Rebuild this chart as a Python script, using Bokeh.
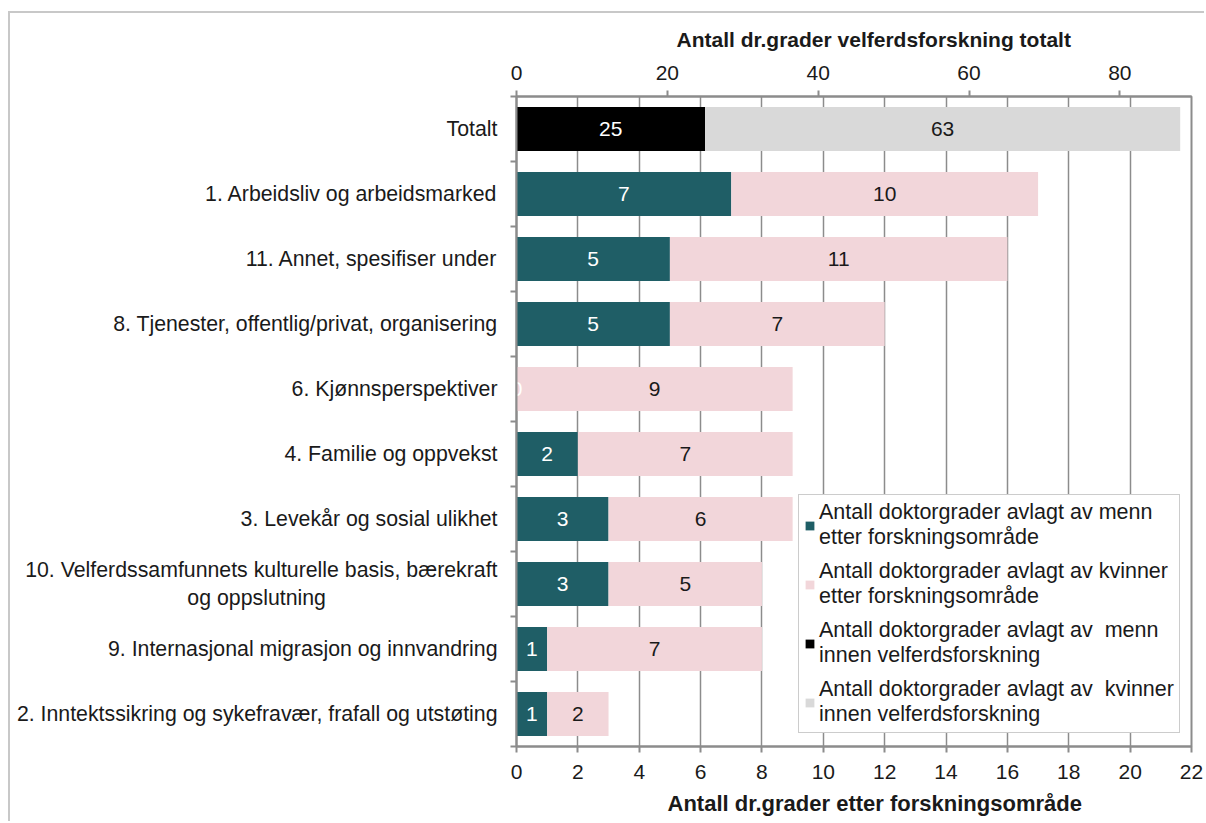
from bokeh.plotting import figure
from bokeh.models import (Range1d, LinearAxis, FixedTicker, Legend, LegendItem,
                          Title, ColumnDataSource)
from bokeh.core.properties import value
from bokeh.embed import file_html
from bokeh.resources import INLINE

# ---------------- data ----------------
total_category = "Totalt"
area_categories = [
    "1. Arbeidsliv og arbeidsmarked",
    "11. Annet, spesifiser under",
    "8. Tjenester, offentlig/privat, organisering",
    "6. Kjønnsperspektiver",
    "4. Familie og oppvekst",
    "3. Levekår og sosial ulikhet",
    "10. Velferdssamfunnets kulturelle basis, bærekraft\nog oppslutning" + "\u00a0" * 29,
    "9. Internasjonal migrasjon og innvandring",
    "2. Inntektssikring og sykefravær, frafall og utstøting",
]
men_area = [7, 5, 5, 0, 2, 3, 3, 1, 1]
women_area = [10, 11, 7, 9, 7, 6, 5, 7, 2]
men_total = [25]
women_total = [63]

bottom_ticks = list(range(0, 23, 2))
top_ticks = [0, 20, 40, 60, 80]

legend_labels = [
    "Antall doktorgrader avlagt av menn\netter forskningsområde",
    "Antall doktorgrader avlagt av kvinner\netter forskningsområde",
    "Antall doktorgrader avlagt av  menn\ninnen velferdsforskning",
    "Antall doktorgrader avlagt av  kvinner\ninnen velferdsforskning",
]
top_title = "Antall dr.grader velferdsforskning totalt"
bottom_title = "Antall dr.grader etter forskningsområde"

# ---------------- style ----------------
FONT = "Liberation Sans"
TEAL = "#1F5E66"
PINK = "#F2D6DA"
BLACK = "#000000"
LGRAY = "#D9D9D9"
AXIS = "#8C8C8C"
TXT = "#1A1A1A"

n_rows = 1 + len(area_categories)
all_labels = [total_category] + area_categories
row_y = [n_rows - i for i in range(n_rows)]          # Totalt at top
area_y = row_y[1:]
total_y = row_y[:1]
BAR_H = 0.68

p = figure(width=1196, height=810,
           x_range=Range1d(0, 22), y_range=Range1d(0.5, n_rows + 0.5),
           output_backend="svg", toolbar_location=None,
           y_axis_location=None,
           min_border_left=506, min_border_right=15,
           min_border_top=83, min_border_bottom=77,
           styles={"margin-left": "8px", "margin-top": "11px",
                   "border-left": "2px solid #C8C8C8",
                   "border-top": "2px solid #C8C8C8"})
p.extra_x_ranges = {"top": Range1d(0, 89.5)}

# ---------------- bars ----------------
men_left = [0] * len(men_area)
men_right = men_area
women_left = men_area
women_right = [m + w for m, w in zip(men_area, women_area)]

src_area = ColumnDataSource(dict(y=area_y, ml=men_left, mr=men_right,
                                 wl=women_left, wr=women_right))
r_men = p.hbar(y="y", left="ml", right="mr", height=BAR_H, source=src_area,
               fill_color=TEAL, line_color=None)
r_women = p.hbar(y="y", left="wl", right="wr", height=BAR_H, source=src_area,
                 fill_color=PINK, line_color=None)

tot_women_right = [m + w for m, w in zip(men_total, women_total)]
src_tot = ColumnDataSource(dict(y=total_y, ml=[0], mr=men_total,
                                wl=men_total, wr=tot_women_right))
r_tmen = p.hbar(y="y", left="ml", right="mr", height=BAR_H, source=src_tot,
                fill_color=BLACK, line_color=None, x_range_name="top")
r_twomen = p.hbar(y="y", left="wl", right="wr", height=BAR_H, source=src_tot,
                  fill_color=LGRAY, line_color=None, x_range_name="top")

# ---------------- value labels ----------------
def mids(l, r):
    return [(a + b) / 2 for a, b in zip(l, r)]

lab_kw = dict(text_align="center", text_baseline="middle",
              text_font=value(FONT), text_font_size="21px")
p.text(x=mids(men_left, men_right), y=area_y, text=[str(v) for v in men_area],
       text_color="white", **lab_kw)
p.text(x=mids(women_left, women_right), y=area_y, text=[str(v) for v in women_area],
       text_color=TXT, **lab_kw)
p.text(x=mids([0], men_total), y=total_y, text=[str(v) for v in men_total],
       text_color="white", x_range_name="top", **lab_kw)
p.text(x=mids(men_total, tot_women_right), y=total_y, text=[str(v) for v in women_total],
       text_color=TXT, x_range_name="top", **lab_kw)

# ---------------- axes ----------------
xa = p.xaxis[0]
xa.ticker = FixedTicker(ticks=bottom_ticks)
xa.axis_line_color = AXIS
xa.axis_line_width = 2
xa.major_tick_line_color = AXIS
xa.major_tick_line_width = 2
xa.major_tick_in = 0
xa.major_tick_out = 6
xa.minor_tick_line_color = None
xa.major_label_standoff = 12
xa.major_label_text_font = FONT
xa.major_label_text_font_size = "21px"
xa.major_label_text_color = TXT

top_axis = LinearAxis(x_range_name="top", ticker=FixedTicker(ticks=top_ticks),
                      axis_line_color=AXIS, axis_line_width=2,
                      major_tick_line_color=AXIS, major_tick_line_width=2,
                      major_tick_in=0, major_tick_out=6,
                      minor_tick_line_color=None, major_label_standoff=11,
                      major_label_text_font=FONT, major_label_text_font_size="21px",
                      major_label_text_color=TXT)
p.add_layout(top_axis, "above")

# left: category labels at row centres, tick marks on row boundaries (minor ticks)
left_axis = LinearAxis(ticker=FixedTicker(ticks=row_y,
                                          minor_ticks=[y + 0.5 for y in range(0, n_rows + 1)]),
                       major_label_overrides={y: lab for y, lab in zip(row_y, all_labels)},
                       axis_line_color=AXIS, axis_line_width=2,
                       major_tick_line_color=None, major_tick_in=0, major_tick_out=0,
                       minor_tick_line_color=AXIS, minor_tick_line_width=2,
                       minor_tick_in=0, minor_tick_out=6,
                       major_label_standoff=13,
                       major_label_text_font=FONT, major_label_text_font_size="21.3px",
                       major_label_text_color=TXT)
p.add_layout(left_axis, "left")

# axis titles
p.add_layout(Title(text=top_title, align="left", offset=160, standoff=23,
                   text_font=FONT, text_font_size="21px", text_font_style="bold",
                   text_color=TXT), "above")
p.add_layout(Title(text=bottom_title, align="left", offset=151, standoff=15,
                   text_font=FONT, text_font_size="22px", text_font_style="bold",
                   text_color=TXT), "below")

# ---------------- grid / frame ----------------
p.xgrid.ticker = FixedTicker(ticks=bottom_ticks)
p.xgrid.grid_line_color = AXIS
p.xgrid.grid_line_width = 1.5
p.ygrid.visible = False
p.outline_line_color = AXIS
p.outline_line_width = 2
p.background_fill_color = "white"
p.border_fill_color = "white"

# ---------------- legend ----------------
legend = Legend(items=[LegendItem(label=legend_labels[0], renderers=[r_men]),
                       LegendItem(label=legend_labels[1], renderers=[r_women]),
                       LegendItem(label=legend_labels[2], renderers=[r_tmen]),
                       LegendItem(label=legend_labels[3], renderers=[r_twomen])],
                location=(282, 13),
                label_text_font=FONT, label_text_font_size="21.5px",
                label_text_color=TXT, label_text_line_height=1.12,
                glyph_width=11, glyph_height=11, label_standoff=4,
                spacing=9, padding=5, margin=0,
                border_line_color="#9A9A9A", border_line_width=1.5,
                background_fill_color="white", background_fill_alpha=1.0)
p.add_layout(legend, "center")

open("out.html", "w").write(file_html(p, INLINE))
